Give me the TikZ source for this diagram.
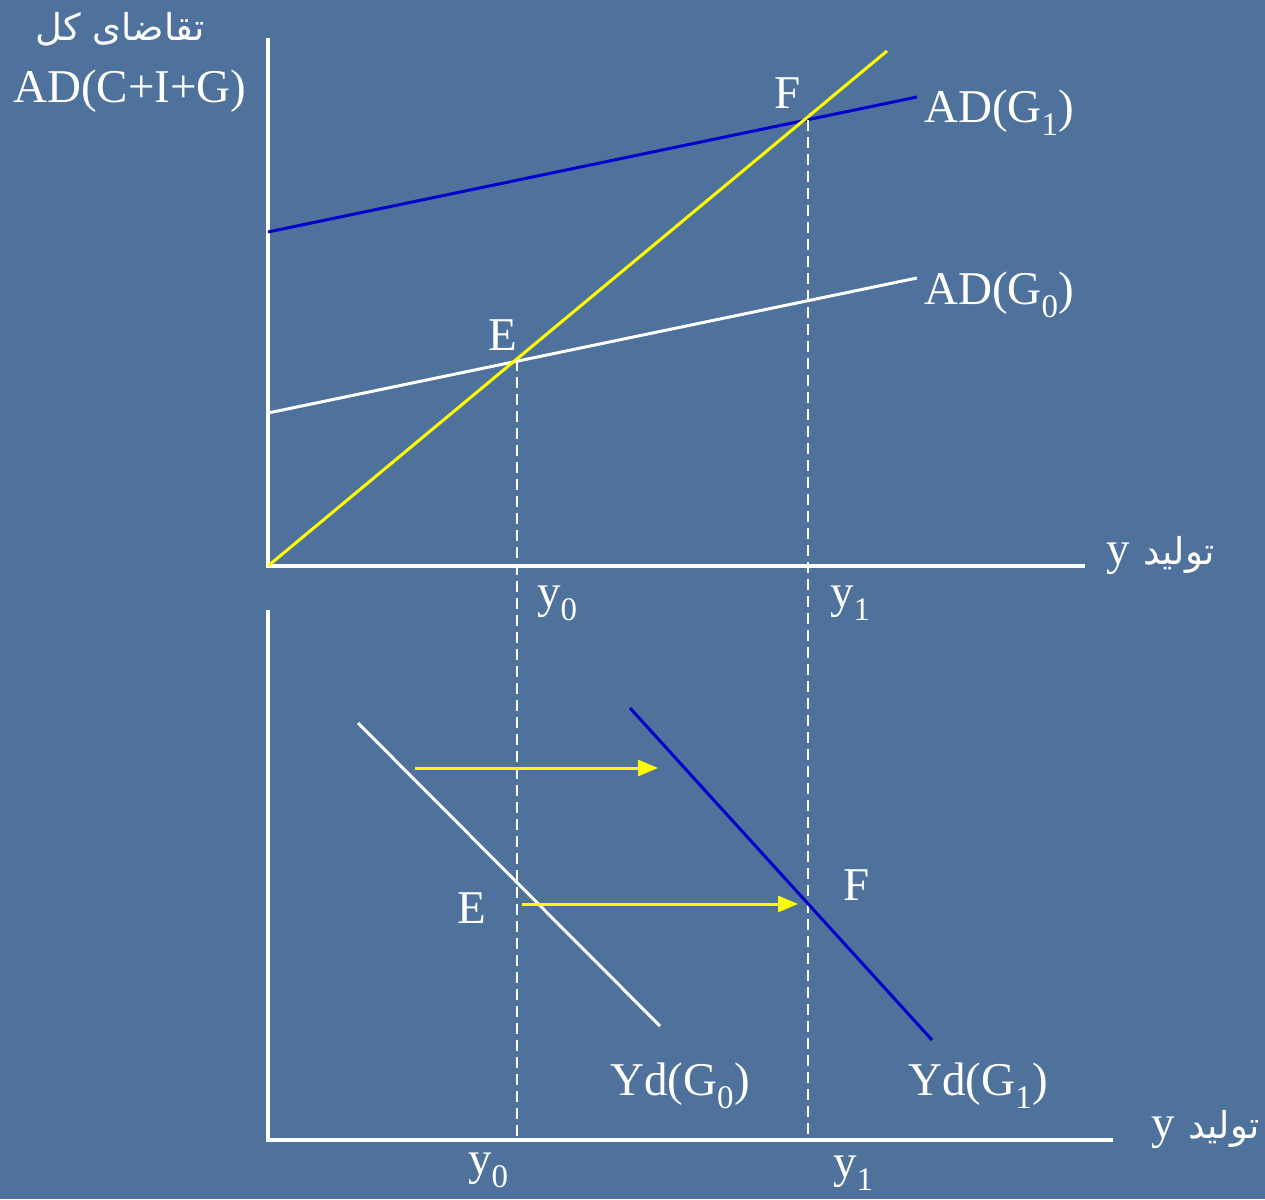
\documentclass[tikz,border=0pt]{standalone}
\usepackage{fontspec}
\setmainfont{Liberation Serif}
\newfontfamily\farsifont[Script=Arabic]{DejaVu Sans}
\TeXXeTstate=1
\usetikzlibrary{arrows.meta,calc}
\definecolor{bgcolor}{RGB}{78,114,155}
\definecolor{adblue}{RGB}{0,0,205}
\definecolor{adyellow}{RGB}{255,255,0}

\begin{document}
\begin{tikzpicture}[x=1pt,y=-1pt,font=\fontsize{47}{54}\selectfont]
  \tikzset{axis/.style={draw=white,line width=3.2pt},
    curve/.style={line width=3pt},
    guide/.style={white,line width=2.6pt,dash pattern=on 11pt off 6pt},
    shiftarrow/.style={adyellow,line width=3pt,-{Triangle[length=20pt,width=16pt]}},
    lbl/.style={white,inner sep=0pt},
    fa/.style={lbl,font=\fontsize{37}{44}\farsifont}}
  \fill[bgcolor] (0,0) rectangle (1265,1199);
  \useasboundingbox (0,0) rectangle (1265,1199);
  % ---------------- upper panel
  \coordinate (O1) at (268,566);
  \coordinate (yTop) at (268,38);
  \coordinate (xEnd1) at (1085,566);
  \draw[axis] (yTop) -- (O1) -- (xEnd1);
  \coordinate (line45) at (887,51);
  \coordinate (adOneL) at (268,232);  \coordinate (adOneR) at (917,97);
  \coordinate (adZeroL) at (268,413); \coordinate (adZeroR) at (917,278);
  \draw[curve,white] (adZeroL) -- (adZeroR);
  \draw[curve,adblue] (adOneL) -- (adOneR);
  \draw[curve,adyellow] (O1) -- (line45);
  \coordinate (E1) at (517,360);
  \coordinate (F1) at (808,120);
  \node[lbl,anchor=base] (lblE1) at (503,350) {E};
  \node[lbl,anchor=base] (lblF1) at (788,108) {F};
  \node[lbl,anchor=base west] (lblAD1) at (924,122) {AD(G\textsubscript{1})};
  \node[lbl,anchor=base west] (lblAD0) at (924,304) {AD(G\textsubscript{0})};
  \node[lbl,anchor=base west] (lblAD) at (13,102) {AD(C+I+G)};
  \node[fa,anchor=base] (lblTaq) at (120,41) {\beginR تقاضای کل\endR};
  \node[lbl,anchor=base west] (lblY1) at (1106,564) {y};
  \node[fa,anchor=base west] (lblTol1) at (1143,564) {\beginR تولید\endR};
  \node[lbl,anchor=base west] (y0up) at (537,607) {y\textsubscript{0}};
  \node[lbl,anchor=base west] (y1up) at (830,607) {y\textsubscript{1}};
  % ---------------- lower panel
  \coordinate (O2) at (268,1140);
  \coordinate (yTop2) at (268,610);
  \coordinate (xEnd2) at (1113,1140);
  \draw[axis] (yTop2) -- (O2) -- (xEnd2);
  \coordinate (E2) at (517,904);
  \coordinate (F2) at (808,904);
  \draw[guide] (E1) -- (E1 |- O2);
  \draw[guide] (F1) -- (F1 |- O2);
  \coordinate (ydZeroT) at (358,723); \coordinate (ydZeroB) at (660,1026);
  \coordinate (ydOneT) at (630,708);  \coordinate (ydOneB) at (932,1040);
  \draw[curve,white] (ydZeroT) -- (ydZeroB);
  \draw[curve,adblue] (ydOneT) -- (ydOneB);
  \coordinate (arTopS) at (415,768); \coordinate (arTopE) at (658,768);
  \coordinate (arLowS) at (522,904); \coordinate (arLowE) at (798,904);
  \draw[shiftarrow] (arTopS) -- (arTopE);
  \draw[shiftarrow] (arLowS) -- (arLowE);
  \node[lbl,anchor=base] (lblE2) at (472,923) {E};
  \node[lbl,anchor=base] (lblF2) at (857,900) {F};
  \node[lbl,anchor=base west] (lblYd0) at (610,1095) {Yd(G\textsubscript{0})};
  \node[lbl,anchor=base west] (lblYd1) at (908,1095) {Yd(G\textsubscript{1})};
  \node[lbl,anchor=base west] (y0low) at (468,1174) {y\textsubscript{0}};
  \node[lbl,anchor=base west] (y1low) at (833,1177) {y\textsubscript{1}};
  \node[lbl,anchor=base west] (lblY2) at (1151,1138) {y};
  \node[fa,anchor=base west] (lblTol2) at (1188,1138) {\beginR تولید\endR};
\end{tikzpicture}
\end{document}
